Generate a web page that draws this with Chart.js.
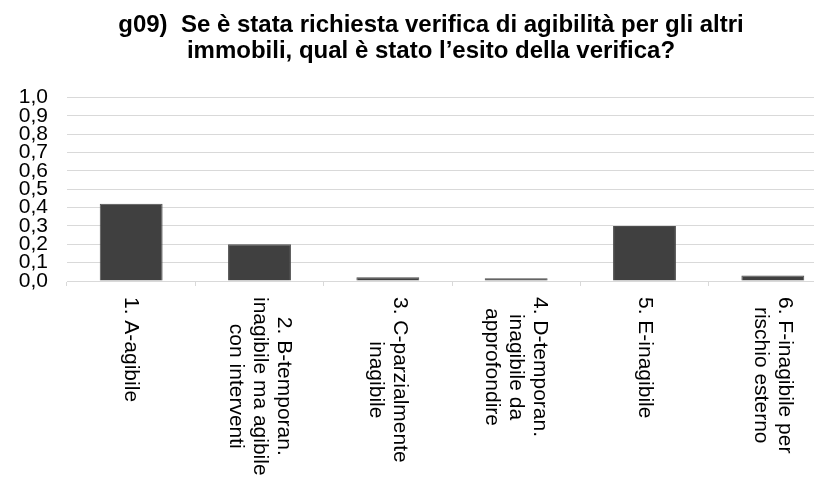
<!DOCTYPE html>
<html>
<head>
<meta charset="utf-8">
<script src="https://cdn.jsdelivr.net/npm/chart.js@4/dist/chart.umd.min.js"></script>
<style>
    body { margin: 0; background: #fff; }
    #wrap { width: 814px; height: 479px; overflow: hidden; position: relative; }
</style>
</head>
<body>
<div id="wrap">
    <canvas id="myChart" width="862" height="479"></canvas>
</div>
<script>
// categories, one array of lines per bar (label is drawn rotated under the axis)
const categories = [
    ['1. A-agibile'],
    ['2. B-temporan.', 'inagibile ma agibile', 'con interventi'],
    ['3. C-parzialmente', 'inagibile'],
    ['4. D-temporan.', 'inagibile da', 'approfondire'],
    ['5. E-inagibile'],
    ['6. F-inagibile per', 'rischio esterno']
];
// share of answers
const values = [0.42, 0.20, 0.02, 0.015, 0.30, 0.03];
const yTicks = [0, 0.1, 0.2, 0.3, 0.4, 0.5, 0.6, 0.7, 0.8, 0.9, 1.0];
const titleLines = [
    'g09)  Se è stata richiesta verifica di agibilità per gli altri',
    'immobili, qual è stato l’esito della verifica?'
];

const LABEL_FONT = '21px "Liberation Sans", Arial, sans-serif';

// draws the category labels turned 90deg clockwise, like the original
const rotatedLabels = {
    id: 'rotatedLabels',
    afterDraw(chart) {
        const ctx = chart.ctx;
        const xScale = chart.scales.x;
        const top = xScale.top + 16;
        const lineH = 24;
        ctx.save();
        ctx.font = LABEL_FONT;
        ctx.fillStyle = '#000';
        ctx.textBaseline = 'middle';
        ctx.textAlign = 'center';
        categories.forEach(function(lines, i) {
            const x = xScale.getPixelForValue(i);
            let maxW = 0;
            lines.forEach(l => { maxW = Math.max(maxW, ctx.measureText(l).width); });
            ctx.save();
            ctx.translate(x, top);
            ctx.rotate(Math.PI / 2);
            for (let k = 0; k < lines.length; k++) {
                const off = (k - (lines.length - 1) / 2) * lineH;
                ctx.fillText(lines[k], maxW / 2, off);
            }
            ctx.restore();
        });
        ctx.restore();
    }
};

function createChart() {
    const ctx = document.getElementById('myChart').getContext('2d');
    return new Chart(ctx, {
        type: 'bar',
        data: {
            labels: categories.map(c => c.join(' ')),
            datasets: [{
                data: values,
                backgroundColor: '#404040',
                borderColor: '#4d4d4d',
                borderWidth: 1,
                categoryPercentage: 1,
                barPercentage: 0.49
            }]
        },
        options: {
            responsive: false,
            animation: false,
            layout: { padding: 0 },
            plugins: {
                legend: { display: false },
                tooltip: { enabled: false },
                title: {
                    display: true,
                    text: titleLines,
                    color: '#000',
                    font: { family: '"Liberation Sans", Arial, sans-serif', size: 24, weight: 'bold', lineHeight: 1.07 },
                    padding: { top: 13, bottom: 33 }
                }
            },
            scales: {
                x: {
                    ticks: { display: false },
                    grid: { drawOnChartArea: false, drawTicks: true, tickLength: 5, color: '#d9d9d9' },
                    border: { color: '#d9d9d9' },
                    afterFit: s => { s.height = 198; }
                },
                y: {
                    min: 0,
                    max: 1,
                    afterBuildTicks: s => { s.ticks = yTicks.map(v => ({ value: v })); },
                    ticks: {
                        autoSkip: false,
                        padding: 19,
                        color: '#000',
                        font: { family: '"Liberation Sans", Arial, sans-serif', size: 21 },
                        callback: v => v.toFixed(1).replace('.', ',')
                    },
                    grid: { color: '#d9d9d9', drawTicks: false },
                    border: { display: false },
                    afterFit: s => { s.width = 67; }
                },
                // empty right-hand spacer so the plot stops short of the canvas edge
                // while the title stays centred on the full width
                spacer: {
                    type: 'linear',
                    position: 'right',
                    ticks: { display: false },
                    grid: { display: false },
                    border: { display: false },
                    afterFit: s => { s.width = 25; }
                }
            }
        },
        plugins: [rotatedLabels]
    });
}

createChart();
</script>
</body>
</html>
